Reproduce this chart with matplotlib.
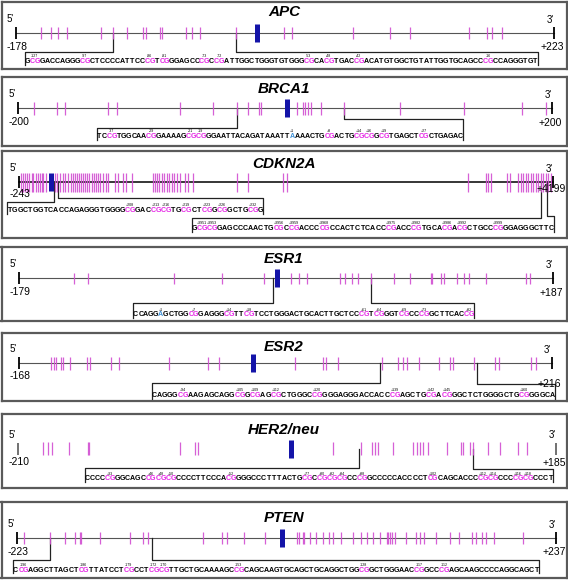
import numpy as np
import matplotlib
matplotlib.use("Agg")
import matplotlib.pyplot as plt
from matplotlib.transforms import blended_transform_factory

W, H = 568, 581
FONT = "Liberation Sans"
MAGENTA = "#d24fd2"
SEQ_MAGENTA = "#e524e5"
BLUE_A = "#3d8fd6"
TSS_BLUE = "#1414a8"

# ---- data: CpG positions (bp relative to TSS) ----
APC_RANGE = (-178, 223)
APC_TSS = 2
APC_CPG = [-159, -152, -147, -140, -115, -106, -95, -83, -81, -71, -69, -51, -47, -41,
           -14, 22, 28, 73, 101, 116, 160, 173, 177, 184]
APC_SEQ = ("GCGGACCAGGGCGCTCCCCATTCCCGTCGGGAGCCCGCCGATTGGCTGGGTGT"
           "GGGCGCACGTGACCGACATGTGGCTGTATTGGTGCAGCCCGCCAGGGTGT")
APC_LAB = ["-127", "-97", "-86", "-81", "-73", "-72", "-53", "-48", "-42", "-16"]

BRCA1_RANGE = (-200, 200)
BRCA1_TSS = 1
BRCA1_CPG = [-188, -171, -165, -133, -126, -79, -54, -36, -28, -20, -18, 9, 13, 15, 17,
             19, 27, 44, 86, 134, 177, 195]
BRCA1_SEQ = "TCCGTGGCAACGGAAAAGCGCGGGAATTACAGATAAATTAAAACTGCGACTGCGCGGCGTGAGCTCGCTGAGAC"
BRCA1_LAB = ["-37", "-29", "-21", "-19", "+1", "+8", "+14", "+16", "+19", "+27"]

CDKN2A_RANGE = (-243, 4199)
CDKN2A_TSS = 19
CDKN2A_CPG = [-229, -207, -193, -174, -157, -135, -124, -102, -88, -68, -54, -41, -21,
              56, 75, 98, 125, 142, 167, 187, 208, 225, 242, 258, 275, 292, 308, 325,
              341, 361, 380, 397, 416, 430, 458, 478, 499, 555, 582, 624, 646, 694,
              868, 888, 907, 923, 943, 962, 985, 1006, 1026, 1046, 1068, 1095, 1137,
              1164, 1201, 1572, 1663, 1954, 1982, 3487, 3639, 3658, 3678, 3811, 3839,
              3908, 3928, 3949, 3972, 3991, 4011, 4032, 4055, 4074, 4096, 4116, 4138,
              4157, 4177]
CDKN2A_SEQ1 = "TGGCTGGTCACCAGAGGGTGGGGCGGACCGCGTGCGCTCGGCGGCTGCGG"
CDKN2A_LAB1 = ["+208", "+213", "+216", "+219", "+223", "+226", "+232"]
CDKN2A_SEQ2 = "GCGCGGAGCCCAACTGCGCCGACCCCGCCACTCTCACCCGACCCGTGCACGACGCTGCCCGGGAGGGCTTC"
CDKN2A_LAB2 = ["+3951", "+3953", "+3956", "+3959", "+3968", "+3975", "+3982", "+3986",
               "+3992", "+3999"]

ESR1_RANGE = (-179, 187)
ESR1_TSS = -2
ESR1_CPG = [-141, -132, -73, -40, -11, 7, 13, 18, 41, 44, 49, 53, 62, 78, 89, 103, 104,
            110, 112, 121, 126, 129, 141, 168, 171]
ESR1_SEQ = "CCAGGAGCTGGCGGAGGGCGTTCGTCCTGGGACTGCACTTGCTCCCGTCGGGTCGCCCGGCTTCACCG"
ESR1_LAB = ["+1", "+7", "+14", "+18", "+61", "+64", "+69", "+73", "+82"]

ESR2_RANGE = (-168, 216)
ESR2_TSS = 1
ESR2_CPG = [-145, -143, -141, -138, -136, -131, -119, -117, -102, -96, -60, -32, -24,
            31, 51, 53, 62, 94, 105, 109, 112, 120, 135, 143, 145, 160, 175, 178, 201, 205]
ESR2_SEQ = "CAGGGCGAAGAGCAGGCGGCGAGCGCTGGGCCGGGGAGGGACCACCCGAGCTGCGACGGGCTCTGGGGCTGCGGGGCA"
ESR2_LAB = ["+94", "+105", "+109", "+112", "+120", "+139", "+142", "+145", "+160"]

HER2_RANGE = (-210, 185)
HER2_TSS = -10
HER2_CPG = [-192, -188, -185, -173, -159, -158, -91, -80, -78, 21, 42, 50, 52, 54, 65,
            80, 83, 85, 87, 91, 105, 115, 117, 122, 124, 135, 144, 157, 164]
HER2_SEQ = ("CCCCCGGGCAGCCGCGCGCCCCTTCCCACGGGGCCCTTTACTGCGCCGCGCGCCCGGCCCCCACCCCTCG"
            "CAGCACCCCGCGCCCCGCGCCCT")
HER2_LAB = ["+33", "+46", "+48", "+50", "+52", "+77", "+80", "+82", "+84", "+88", "+102",
            "+112", "+114", "+116", "+118"]

PTEN_RANGE = (-223, 237)
PTEN_TSS = 3
PTEN_CPG = [-217, -195, -182, -173, -169, -168, -152, -126, -115, -111, -64, -48, -44,
            -29, -11, 16, 18, 21, 22, 27, 32, 38, 43, 47, 54, 64, 71, 76, 81, 87, 93, 94,
            95, 97, 100, 109, 118, 121, 124, 135, 147, 154, 165, 169, 174, 177, 184, 209]
PTEN_SEQ = ("CCGAGGCTTAGCTCGTTATCCTCGCCTCGCGTTGCTGCAAAAGCCGCAGCAAGTGCAGCTGCAGGCTGGCGG"
            "CTGGGAACCGGCCCGAGCAAGCCCCAGGCAGCT")
PTEN_LAB = ["-196", "-186", "-179", "-172", "-170", "-153", "-128", "-117", "-112"]

# ---- layout (pixels of the 568x581 picture) ----
BOX_X = (1.5, 566.5)
PANELS = [
    dict(name="APC", rng=APC_RANGE, tss=APC_TSS, cpg=APC_CPG, box=(1.5, 69), lx=(16, 554),
         ly=33, ty=12.5, dy=(13.5, 13.5), line=True, tick=6,
         seqs=[dict(seq=APC_SEQ, lab=APC_LAB, blue=None, x=(25, 538), y=61.5,
                    left=(-106, 52.3), right=(-14, 52.3))]),
    dict(name="BRCA1", rng=BRCA1_RANGE, tss=BRCA1_TSS, cpg=BRCA1_CPG, box=(77.5, 146),
         lx=(18.3, 552.3), ly=108.3, ty=89, dy=(13.7, 14.4), line=True, tick=6.5,
         seqs=[dict(seq=BRCA1_SEQ, lab=BRCA1_LAB, blue=39, x=(96.7, 463), y=136.7,
                    left=(-36, 128.3), right=(44, 119.5))]),
    dict(name="CDKN2A", rng=CDKN2A_RANGE, tss=CDKN2A_TSS, cpg=CDKN2A_CPG, box=(151, 238.3),
         lx=(19, 553.3), ly=182.3, ty=164.5, dy=(12, 7), line=True, tick=9.5,
         seqs=[dict(seq=CDKN2A_SEQ1, lab=CDKN2A_LAB1, blue=None, x=(7.3, 263), y=210.5,
                    left=(48, 201.7), right=(84, 198.3)),
               dict(seq=CDKN2A_SEQ2, lab=CDKN2A_LAB2, blue=None, x=(191.7, 554), y=228.5,
                    left=(4096, 217.5), right=(4144, 215.5))]),
    dict(name="ESR1", rng=ESR1_RANGE, tss=ESR1_TSS, cpg=ESR1_CPG, box=(246.5, 321),
         lx=(19, 553.3), ly=278.3, ty=259, dy=(13.4, 15), line=True, tick=5.5,
         seqs=[dict(seq=ESR1_SEQ, lab=ESR1_LAB, blue=5, x=(133.3, 474.3), y=315,
                    left=(-5, 303.3), right=(62, 303.3))]),
    dict(name="ESR2", rng=ESR2_RANGE, tss=ESR2_TSS, cpg=ESR2_CPG, box=(333, 401),
         lx=(19, 551.7), ly=363.3, ty=346.7, dy=(12.4, 21), line=True, tick=6.5,
         seqs=[dict(seq=ESR2_SEQ, lab=ESR2_LAB, blue=None, x=(151.7, 555), y=395.7,
                    left=(92, 383.3), right=(162, 384))]),
    dict(name="HER2/neu", rng=HER2_RANGE, tss=HER2_TSS, cpg=HER2_CPG, box=(414.3, 488.3),
         lx=(18.3, 556), ly=448.5, ty=430, dy=(13.8, 14.8), line=False, tick=6.5,
         seqs=[dict(seq=HER2_SEQ, lab=HER2_LAB, blue=None, x=(85, 553.3), y=479,
                    left=(40, 468.3), right=(124, 469))]),
    dict(name="PTEN", rng=PTEN_RANGE, tss=PTEN_TSS, cpg=PTEN_CPG, box=(502, 577.5),
         lx=(16.7, 556), ly=537.7, ty=518.3, dy=(14, 14), line=True, tick=6,
         seqs=[dict(seq=PTEN_SEQ, lab=PTEN_LAB, blue=None, x=(13.3, 539.3), y=570,
                    left=(-195, 560), right=(-108, 560))]),
]


def draw_sequence(ax, to_bp, sq):
    '''
    Write a sequence one letter at a time, CG pairs in magenta, the +1 base in blue,
    with the small position labels above it
    '''
    seq = sq["seq"]
    n = len(seq)
    x0, x1 = to_bp(sq["x"][0]), to_bp(sq["x"][1])
    step = (x1 - x0) / n
    colors = ["black"] * n
    marks = []
    i = 0
    while i < n - 1:
        if seq[i:i + 2] == "CG":
            colors[i] = colors[i + 1] = SEQ_MAGENTA
            marks.append(i + 1.0)
            i += 2
        else:
            i += 1
    if sq["blue"] is not None:
        colors[sq["blue"]] = BLUE_A
        marks.append(sq["blue"] + 0.5)
        marks.sort()
    y = sq["y"]
    for k, ch in enumerate(seq):
        ax.text(x0 + (k + 0.5) * step, y, ch, color=colors[k], fontsize=5.1,
                fontweight="bold", family=FONT, ha="center", va="center")
    for m, lab in zip(marks, sq["lab"]):
        ax.text(x0 + m * step, y - 5.3, lab, fontsize=2.6, family=FONT,
                ha="center", va="center")
    return x0, x1


fig = plt.figure(figsize=(W / 100, H / 100), dpi=100)

for p in PANELS:
    start, end = p["rng"]
    lx0, lx1 = p["lx"]
    s = (lx1 - lx0) / (end - start)
    top, bot = p["box"]
    ax = fig.add_axes([BOX_X[0] / W, 1 - bot / H, (BOX_X[1] - BOX_X[0]) / W, (bot - top) / H])
    ax.set_xlim(start + (BOX_X[0] - lx0) / s, start + (BOX_X[1] - lx0) / s)
    ax.set_ylim(bot, top)
    ax.set_xticks([])
    ax.set_yticks([])
    for sp in ax.spines.values():
        sp.set_color("#5a5a5a")
        sp.set_linewidth(1.6)

    def to_bp(px, start=start, lx0=lx0, s=s):
        return start + (px - lx0) / s

    ly = p["ly"]
    t = p["tick"]
    if p["line"]:
        ax.plot([start, end], [ly, ly], color="#555555" if p["name"] != "CDKN2A" else "black",
                lw=0.8 if p["name"] != "CDKN2A" else 1.1, zorder=1)
    ax.vlines(p["cpg"], ly - t, ly + t, color=MAGENTA, lw=0.9, alpha=0.9, zorder=2)
    end_col = "#666666" if p["name"] == "HER2/neu" else "black"
    ax.vlines([start, end], ly - 6, ly + 6, color=end_col, lw=1.3, zorder=3)
    ax.plot([p["tss"], p["tss"]], [ly - 9, ly + 9], color=TSS_BLUE, lw=3.6,
            solid_capstyle="butt", zorder=4)

    trans = blended_transform_factory(ax.transAxes, ax.transData)
    ax.text((284 - BOX_X[0]) / (BOX_X[1] - BOX_X[0]), p["ty"], p["name"], transform=trans,
            fontsize=11, fontweight="bold", fontstyle="italic", family=FONT,
            ha="center", va="center")
    ax.text(to_bp(lx0 - 6), ly - 14, "5'", fontsize=7, family=FONT, ha="center", va="center")
    ax.text(to_bp(lx1 - 4), ly - 13, "3'", fontsize=7, family=FONT, ha="center", va="center")
    ax.text(to_bp(lx0 + 1), ly + p["dy"][0], str(start), fontsize=7.5, family=FONT,
            ha="center", va="center")
    ax.text(to_bp(lx1 - 2), ly + p["dy"][1], "+%d" % end, fontsize=7.5, family=FONT,
            ha="center", va="center")

    # brackets from the map line down to the ends of each sequence
    for sq in p["seqs"]:
        x0, x1 = draw_sequence(ax, to_bp, sq)
        bottom = sq["y"] + 3
        a, hy = sq["left"]
        ax.plot([a, a, x0, x0], [ly, hy, hy, bottom], color="#222222", lw=0.9, zorder=1)
        b, hy = sq["right"]
        ax.plot([b, b, x1, x1], [ly, hy, hy, bottom], color="#222222", lw=0.9, zorder=1)

fig.savefig("out.png", dpi=100)
